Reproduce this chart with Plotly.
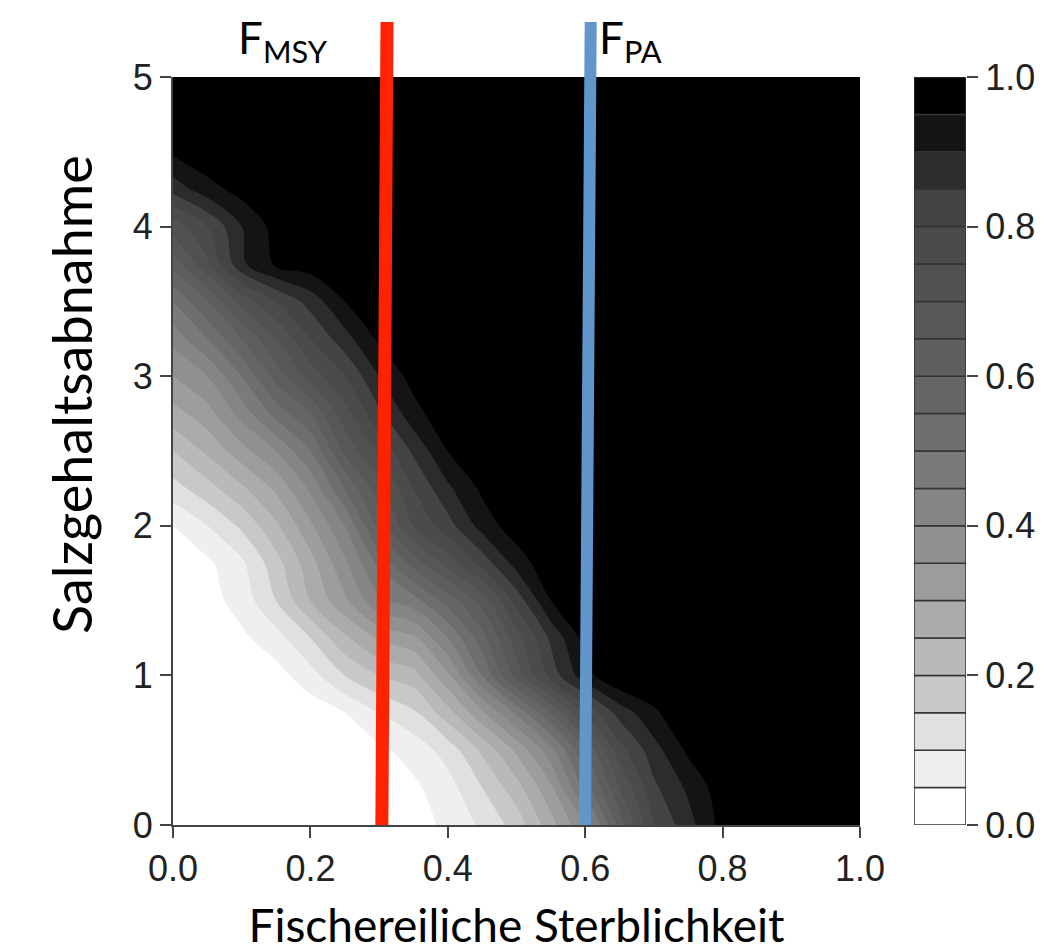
import plotly.graph_objects as go

# Fishing mortality (x) and salinity decrease (y) grid
f_values = [0.0, 0.05, 0.1, 0.15, 0.2, 0.25, 0.3, 0.35, 0.4, 0.45, 0.5,
            0.55, 0.6, 0.65, 0.7, 0.75, 0.8, 0.85, 0.9, 0.95, 1.0]
salinity_values = [0.0, 0.25, 0.5, 0.75, 1.0, 1.25, 1.5, 1.75, 2.0, 2.25, 2.5,
                   2.75, 3.0, 3.25, 3.5, 3.75, 4.0, 4.25, 4.5, 4.75, 5.0]

# probability values (rows = salinity, cols = F)
p_rows = [
    [0, 0, 0, 0, 0, 0, 0.01, 0.03, 0.06, 0.11, 0.17, 0.28, 0.40, 0.62, 0.80, 0.88, 0.97, 1, 1, 1, 1],
    [0, 0, 0, 0, 0, 0.01, 0.02, 0.04, 0.08, 0.15, 0.23, 0.34, 0.52, 0.70, 0.84, 0.91, 0.98, 1, 1, 1, 1],
    [0, 0, 0, 0, 0.01, 0.02, 0.04, 0.07, 0.12, 0.21, 0.31, 0.43, 0.60, 0.78, 0.88, 0.96, 1, 1, 1, 1, 1],
    [0, 0, 0, 0, 0.02, 0.05, 0.10, 0.14, 0.23, 0.34, 0.46, 0.60, 0.76, 0.87, 0.94, 1, 1, 1, 1, 1, 1],
    [0, 0, 0, 0.03, 0.08, 0.15, 0.20, 0.23, 0.34, 0.50, 0.67, 0.82, 0.93, 1, 1, 1, 1, 1, 1, 1, 1],
    [0, 0, 0.04, 0.08, 0.15, 0.24, 0.31, 0.34, 0.45, 0.58, 0.73, 0.86, 0.97, 1, 1, 1, 1, 1, 1, 1, 1],
    [0, 0.03, 0.07, 0.15, 0.25, 0.34, 0.44, 0.48, 0.57, 0.67, 0.82, 0.95, 1, 1, 1, 1, 1, 1, 1, 1, 1],
    [0.02, 0.04, 0.09, 0.18, 0.28, 0.39, 0.51, 0.62, 0.72, 0.82, 0.92, 0.99, 1, 1, 1, 1, 1, 1, 1, 1, 1],
    [0.05, 0.10, 0.16, 0.24, 0.34, 0.45, 0.62, 0.75, 0.83, 0.92, 0.98, 1, 1, 1, 1, 1, 1, 1, 1, 1, 1],
    [0.13, 0.18, 0.24, 0.31, 0.41, 0.55, 0.68, 0.80, 0.89, 0.96, 1, 1, 1, 1, 1, 1, 1, 1, 1, 1, 1],
    [0.20, 0.26, 0.33, 0.40, 0.50, 0.66, 0.76, 0.86, 0.95, 1, 1, 1, 1, 1, 1, 1, 1, 1, 1, 1, 1],
    [0.28, 0.33, 0.42, 0.52, 0.60, 0.73, 0.84, 0.93, 0.99, 1, 1, 1, 1, 1, 1, 1, 1, 1, 1, 1, 1],
    [0.35, 0.40, 0.50, 0.62, 0.72, 0.80, 0.90, 0.97, 1, 1, 1, 1, 1, 1, 1, 1, 1, 1, 1, 1, 1],
    [0.42, 0.50, 0.60, 0.70, 0.80, 0.88, 0.96, 1, 1, 1, 1, 1, 1, 1, 1, 1, 1, 1, 1, 1, 1],
    [0.50, 0.60, 0.72, 0.80, 0.87, 0.95, 1, 1, 1, 1, 1, 1, 1, 1, 1, 1, 1, 1, 1, 1, 1],
    [0.62, 0.74, 0.89, 0.96, 0.98, 1, 1, 1, 1, 1, 1, 1, 1, 1, 1, 1, 1, 1, 1, 1, 1],
    [0.72, 0.80, 0.90, 0.97, 1, 1, 1, 1, 1, 1, 1, 1, 1, 1, 1, 1, 1, 1, 1, 1, 1],
    [0.87, 0.93, 0.97, 1, 1, 1, 1, 1, 1, 1, 1, 1, 1, 1, 1, 1, 1, 1, 1, 1, 1],
    [0.96, 0.99, 1, 1, 1, 1, 1, 1, 1, 1, 1, 1, 1, 1, 1, 1, 1, 1, 1, 1, 1],
    [1, 1, 1, 1, 1, 1, 1, 1, 1, 1, 1, 1, 1, 1, 1, 1, 1, 1, 1, 1, 1],
    [1, 1, 1, 1, 1, 1, 1, 1, 1, 1, 1, 1, 1, 1, 1, 1, 1, 1, 1, 1, 1],
]

# contour bands (20 levels of 0.05) and their grey shades
band_edges = [0.0, 0.05, 0.1, 0.15, 0.2, 0.25, 0.3, 0.35, 0.4, 0.45, 0.5,
              0.55, 0.6, 0.65, 0.7, 0.75, 0.8, 0.85, 0.9, 0.95, 1.0]
band_colors = ["#ffffff", "#efefef", "#e0e0e0", "#c8c8c8", "#b9b9b9",
               "#ababab", "#9d9d9d", "#909090", "#858585", "#7a7a7a",
               "#6e6e6e", "#656565", "#5e5e5e", "#575757", "#515151",
               "#4b4b4b", "#444444", "#2c2c2c", "#141414", "#000000"]

x_ticks = [0.0, 0.2, 0.4, 0.6, 0.8, 1.0]
x_tick_labels = ["0.0", "0.2", "0.4", "0.6", "0.8", "1.0"]
y_ticks = [0, 1, 2, 3, 4, 5]
y_tick_labels = ["0", "1", "2", "3", "4", "5"]
cb_ticks = [0.0, 0.2, 0.4, 0.6, 0.8, 1.0]
cb_tick_labels = ["0.0", "0.2", "0.4", "0.6", "0.8", "1.0"]

# reference lines (x at bottom, x at top) and labels
f_msy_line = [0.304, 0.3115]
f_pa_line = [0.5997, 0.608]
line_top = 1.0735  # in plot-height fractions

nb = len(band_colors)
colorscale = [[k / (nb - 1), band_colors[k]] for k in range(nb)]

fig = go.Figure()
fig.add_trace(go.Contour(
    x=f_values, y=salinity_values, z=p_rows,
    colorscale=colorscale,
    contours=dict(start=band_edges[1], end=band_edges[-2], size=band_edges[1] - band_edges[0],
                  coloring="fill", showlines=False),
    line=dict(width=0),
    showscale=False,
    hoverinfo="skip",
))

# colour key as a stacked column
heights = [band_edges[i + 1] - band_edges[i] for i in range(nb)]
fig.add_trace(go.Bar(
    x=[0.5] * nb, y=heights, base=band_edges[:-1], width=1,
    marker=dict(color=band_colors, line=dict(color="#333333", width=1.5)),
    xaxis="x2", yaxis="y2", showlegend=False, hoverinfo="skip",
))

tick_font = dict(family="Liberation Sans, Arial", size=36, color="#222222")
title_family = "Lato, Carlito, Calibri, sans-serif"

fig.update_layout(
    width=1057, height=952,
    margin=dict(l=173, r=91, t=77, b=127, autoexpand=False),
    paper_bgcolor="white", plot_bgcolor="white",
    showlegend=False,
    xaxis=dict(domain=[0, 687 / 793], range=[0, 1], tickvals=x_ticks, ticktext=x_tick_labels,
               ticks="outside", ticklen=11, tickwidth=2, tickcolor="#444444",
               showline=True, linewidth=2, linecolor="#444444", automargin=False,
               showgrid=False, zeroline=False, tickfont=tick_font,
               title=dict(text="Fischereiliche Sterblichkeit",
                          font=dict(family=title_family, size=46, color="#000000"), standoff=28)),
    yaxis=dict(range=[0, 5], tickvals=y_ticks, ticktext=y_tick_labels,
               ticks="outside", ticklen=11, tickwidth=2, tickcolor="#444444",
               showline=True, linewidth=2, linecolor="#444444", automargin=False,
               showgrid=False, zeroline=False, tickfont=tick_font),
    xaxis2=dict(domain=[741 / 793, 1], range=[0, 1], anchor="y2", visible=False),
    yaxis2=dict(domain=[0, 1], range=[0, 1], anchor="x2", side="right",
                tickvals=cb_ticks, ticktext=cb_tick_labels, automargin=False,
                ticks="outside", ticklen=11, tickwidth=2, tickcolor="#444444",
                showline=False, showgrid=False, zeroline=False,
                tickfont=dict(family="Liberation Sans, Arial", size=36, color="#222222")),
)

# y-axis title (placed slightly above the axis centre, as in the original)
fig.add_annotation(text="Salzgehaltsabnahme", textangle=-90, xref="paper", yref="paper",
                   x=0, y=0.575, xanchor="center", yanchor="middle", xshift=-101,
                   showarrow=False, font=dict(family=title_family, size=54, color="#000000"))

for xs, col, w in [(f_msy_line, "#ff2200", 13), (f_pa_line, "#6096cc", 12)]:
    fig.add_shape(type="line", xref="x", yref="paper",
                  x0=xs[0], y0=0, x1=xs[1], y1=line_top,
                  line=dict(color=col, width=w), layer="above")

label_font = dict(family=title_family, size=44, color="#000000")
fig.add_annotation(x=f_msy_line[1], y=1.049, xref="x", yref="paper",
                   text="F<sub>MSY</sub>", showarrow=False, xanchor="right", yanchor="middle",
                   xshift=-57, font=label_font)
fig.add_annotation(x=f_pa_line[1], y=1.049, xref="x", yref="paper",
                   text="F<sub>PA</sub>", showarrow=False, xanchor="left", yanchor="middle",
                   xshift=6, font=label_font)

fig.write_html("out.html")
